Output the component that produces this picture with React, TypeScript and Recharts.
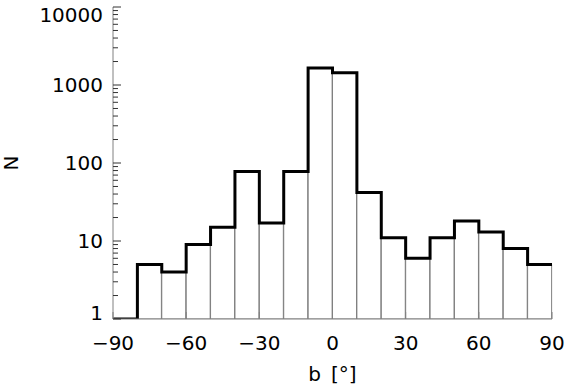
import {
  ComposedChart,
  Bar,
  Line,
  XAxis,
  YAxis,
} from "recharts";

// histogram of b, 10 degree bins, counts (log scale)
const binStart = [-90, -80, -70, -60, -50, -40, -30, -20, -10, 0, 10, 20, 30, 40, 50, 60, 70, 80];
const counts = [1, 5, 4, 9, 15, 78, 17, 78, 1650, 1440, 42, 11, 6, 11, 18, 13, 8, 5];
const binEnd = 90;

const xTicks = [-90, -60, -30, 0, 30, 60, 90];
const yMajor = [1, 10, 100, 1000, 10000];
const yMinorSteps = [2, 3, 4, 5, 6, 7, 8, 9];

const bins = binStart.map((b, i) => ({ bin: b, n: counts[i] }));
const edges = [...binStart, binEnd].map((x, i) => ({
  x,
  n: counts[Math.min(i, counts.length - 1)],
}));
const yTicks = [
  ...yMajor,
  ...yMajor.slice(0, -1).flatMap((d) => yMinorSteps.map((s) => s * d)),
];

const FONT = "'DejaVu Sans', sans-serif";
const AXIS = "#808080";
const TICK = "#333";

const fmt = (v: number) => (v < 0 ? "\u2212" + Math.abs(v) : String(v));

const LeftTick = (props: any) => {
  const { x, y, payload } = props;
  const v = payload.value;
  const major = yMajor.includes(v);
  const ly = Math.min(Math.max(y, 15), 313);
  return (
    <g>
      <line x1={x} x2={x + (major ? 8 : 5)} y1={y} y2={y} stroke={TICK} />
      {major && (
        <text
          x={x - 10}
          y={ly}
          textAnchor="end"
          dominantBaseline="central"
          fontFamily={FONT}
          fontSize={20}
          fill="#000"
        >
          {v}
        </text>
      )}
    </g>
  );
};

const RightTick = (props: any) => {
  const { x, y, payload } = props;
  const major = yMajor.includes(payload.value);
  return <line x1={x} x2={x - (major ? 8 : 5)} y1={y} y2={y} stroke={TICK} />;
};

const TopTick = (props: any) => {
  const { x, y } = props;
  return <line x1={x} x2={x} y1={y} y2={y + 7} stroke={AXIS} />;
};

const BottomTick = (props: any) => {
  const { x, y, payload } = props;
  return (
    <g>
      <line x1={x} x2={x} y1={y} y2={y - 7} stroke={AXIS} />
      <text
        x={x}
        y={y + 24}
        textAnchor="middle"
        dominantBaseline="central"
        fontFamily={FONT}
        fontSize={20}
        fill="#000"
      >
        {fmt(payload.value)}
      </text>
    </g>
  );
};

export default function App() {
  return (
    <div style={{ position: "fixed", left: 0, top: 0, background: "#fff" }}>
      <ComposedChart
        width={570}
        height={390}
        data={bins}
        margin={{ top: 7, right: 18, bottom: 0, left: 0 }}
        barCategoryGap={0}
        barGap={0}
      >
        <XAxis xAxisId="cat" dataKey="bin" hide />
        <XAxis
          xAxisId="b"
          dataKey="x"
          type="number"
          domain={[-90, 90]}
          allowDataOverflow
          ticks={xTicks}
          interval={0}
          height={71}
          tickSize={0}
          tickMargin={0}
          tickLine={false}
          axisLine={{ stroke: AXIS }}
          tick={<BottomTick />}
          label={{
            value: "b\u2002[\u00b0]",
            position: "insideBottom",
            offset: 9,
            fontFamily: FONT,
            fontSize: 20,
            fill: "#000",
          }}
        />
        <XAxis
          xAxisId="t"
          orientation="top"
          type="number"
          domain={[-90, 90]}
          allowDataOverflow
          ticks={xTicks}
          interval={0}
          height={0}
          tickSize={0}
          tickMargin={0}
          tickLine={false}
          axisLine={{ stroke: AXIS }}
          tick={<TopTick />}
        />
        <YAxis
          yAxisId="l"
          type="number"
          scale="log"
          domain={[1, 10000]}
          allowDataOverflow
          ticks={yTicks}
          interval={0}
          width={113}
          tickSize={0}
          tickMargin={0}
          tickLine={false}
          axisLine={{ stroke: AXIS }}
          tick={<LeftTick />}
          label={{
            value: "N",
            content: (p: any) => (
              <text
                x={p.viewBox.x + 11}
                y={p.viewBox.y + p.viewBox.height / 2}
                transform={`rotate(-90 ${p.viewBox.x + 11} ${p.viewBox.y + p.viewBox.height / 2})`}
                textAnchor="middle"
                dominantBaseline="central"
                fontFamily={FONT}
                fontSize={20}
                fill="#000"
              >
                N
              </text>
            ),
          }}
        />
        <YAxis
          yAxisId="r"
          orientation="right"
          type="number"
          scale="log"
          domain={[1, 10000]}
          allowDataOverflow
          ticks={yTicks}
          interval={0}
          width={0}
          tickSize={0}
          tickMargin={0}
          tickLine={false}
          axisLine={{ stroke: AXIS }}
          tick={<RightTick />}
        />
        <Bar
          xAxisId="cat"
          yAxisId="l"
          dataKey="n"
          fill="none"
          stroke="#808080"
          strokeWidth={1}
          isAnimationActive={false}
        />
        <Line
          xAxisId="b"
          yAxisId="l"
          data={edges}
          dataKey="n"
          type="stepAfter"
          stroke="#000"
          strokeWidth={3}
          dot={false}
          activeDot={false}
          isAnimationActive={false}
        />
      </ComposedChart>
    </div>
  );
}
